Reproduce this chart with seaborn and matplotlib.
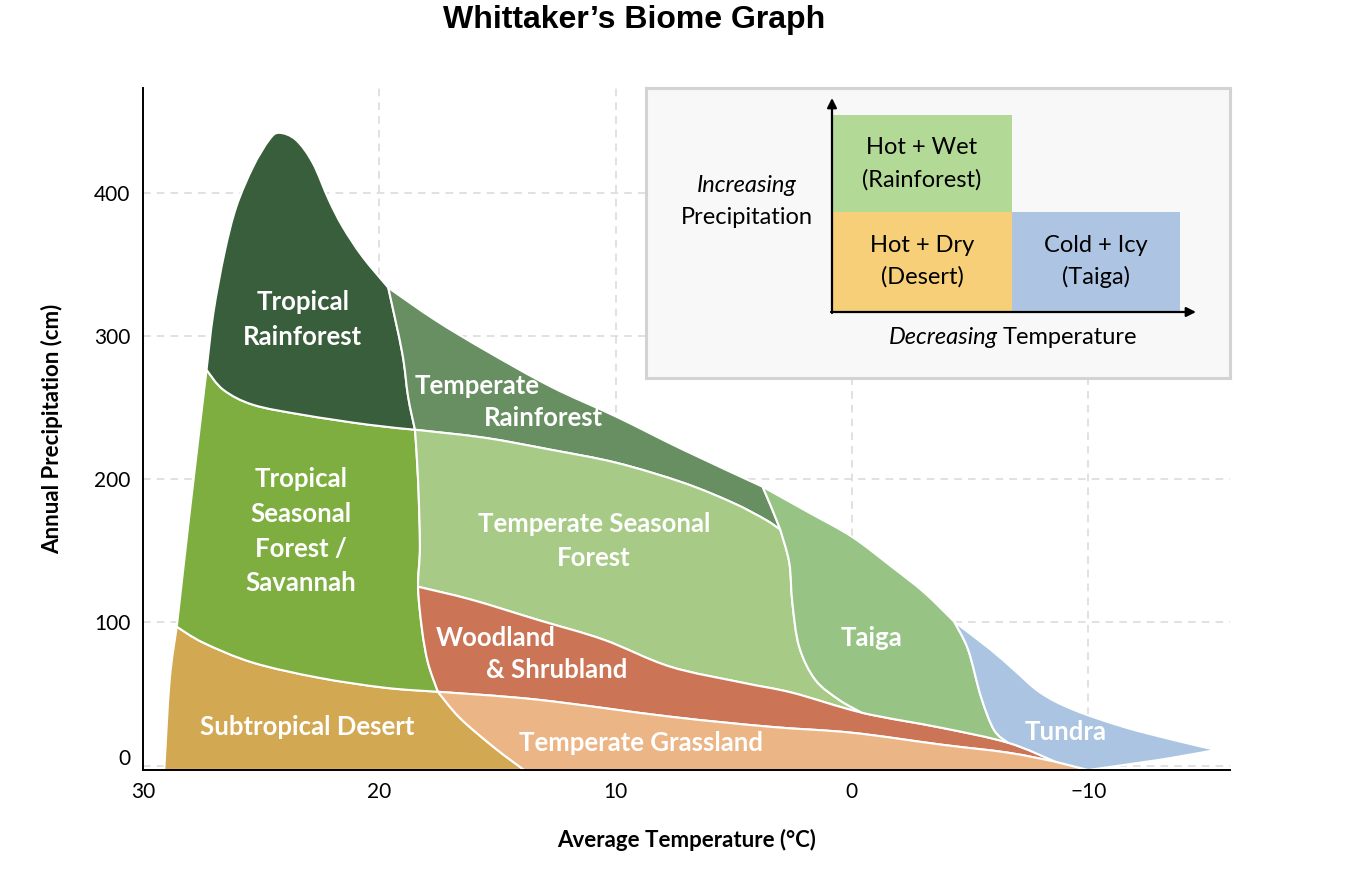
import matplotlib
matplotlib.use("Agg")
import matplotlib.pyplot as plt
import seaborn as sns
from matplotlib.patches import Rectangle, PathPatch
from matplotlib.path import Path
from matplotlib.transforms import ScaledTranslation

# ---------------- data: biome boundaries (temperature °C, precipitation cm) ----------------
BASE = -3.0
left_desert = [(29.1, BASE), (28.87, 60.0), (28.57, 97.0)]
left_tsf = [(28.57, 97.0), (28.0, 180.0), (27.31, 276.3)]
tr_outer = [(27.31, 276.3), (27.02, 316.1), (26.55, 358.0), (26.05, 390.1), (25.34, 418.0),
            (24.66, 436.8), (24.24, 441.7), (23.53, 436.8), (22.82, 420.8), (22.14, 395.0),
            (21.55, 376.1), (20.71, 355.2), (19.62, 333.6)]
temprf_outer = [(19.62, 333.6), (17.65, 311.2), (15.55, 290.3), (12.73, 264.5), (9.96, 243.5),
                (7.14, 220.5), (3.78, 194.7)]
taiga_outer = [(3.78, 194.7), (1.81, 176.6), (0.0, 159.8), (-1.68, 138.9), (-3.07, 120.7), (-4.33, 100.5)]
tundra_top = [(-4.33, 100.5), (-5.88, 80.9), (-6.85, 67.0), (-7.98, 50.9), (-9.37, 39.1),
              (-11.47, 27.2), (-13.57, 18.1), (-15.4, 11.0)]
tundra_bottom = [(-15.4, 11.0), (-13.57, 5.6), (-12.18, 2.1), (-10.0, BASE)]
tr_tsf = [(27.31, 276.3), (26.6, 262.4), (25.34, 251.9), (23.24, 244.9), (20.46, 238.0), (18.49, 234.5)]
tr_temprf = [(19.62, 333.6), (19.03, 288.2), (18.78, 257.5), (18.49, 234.5)]
tsf_right = [(18.49, 234.5), (18.36, 199.6), (18.28, 152.8), (18.36, 124.9), (18.19, 94.9),
             (17.94, 71.9), (17.52, 51.6)]
tsf_desert = [(28.57, 97.0), (27.44, 85.8), (25.34, 71.9), (22.56, 61.4), (19.75, 54.4), (17.52, 51.6)]
desert_grass = [(17.52, 51.6), (16.6, 33.5), (15.13, 12.6), (13.87, BASE)]
temprf_tsf2 = [(18.49, 234.5), (15.55, 228.9), (12.73, 220.5), (9.96, 211.4), (7.14, 197.5),
               (5.04, 183.5), (3.66, 171.7), (3.03, 164.7)]
temprf_taiga = [(3.78, 194.7), (3.40, 180.0), (3.03, 164.7)]
tsf2_taiga = [(3.03, 164.7), (2.65, 141.7), (2.52, 113.7), (2.23, 83.0), (1.55, 60.0), (0.55, 46.1), (-0.42, 37.0)]
wood_top = [(18.36, 124.9), (16.09, 115.8), (13.32, 101.9), (10.5, 87.9), (7.69, 69.1),
            (4.62, 57.9), (2.52, 50.9), (-0.42, 37.0), (-3.78, 26.5), (-6.6, 16.1), (-8.61, 2.8)]
taiga_tundra = [(-4.33, 100.5), (-4.92, 80.9), (-5.46, 48.2), (-6.01, 25.1), (-6.6, 16.1)]
wood_bottom = [(17.52, 51.6), (13.32, 46.1), (7.69, 34.2), (3.49, 27.2), (0.0, 23.0),
               (-3.78, 14.7), (-6.6, 9.1), (-8.61, 2.8)]
grass_tip = [(-8.61, 2.8), (-10.0, BASE)]

biome_names = ["Subtropical Desert", "Tropical Seasonal Forest", "Tropical Rainforest",
               "Temperate Rainforest", "Temperate Seasonal Forest", "Woodland & Shrubland",
               "Temperate Grassland", "Taiga", "Tundra"]
biome_colors = ["#D2A853", "#7EAE40", "#385E3B", "#678F62", "#A7CB87", "#CB7556",
                "#ECB586", "#97C385", "#ABC4E2"]

# label lines: (text, temperature, precipitation)
label_lines = [("Tropical", 23.24, 323.8), ("Rainforest", 23.24, 299.4),
               ("Temperate", 15.88, 265.2), ("Rainforest", 13.07, 242.8),
               ("Tropical", 23.32, 200.3), ("Seasonal", 23.32, 175.9), ("Forest /", 23.32, 151.4),
               ("Savannah", 23.32, 127.7),
               ("Temperate Seasonal", 10.92, 168.9), ("Forest", 10.92, 145.2),
               ("Woodland", 15.08, 89.3), ("& Shrubland", 12.48, 67.0),
               ("Subtropical Desert", 23.07, 27.2), ("Temperate Grassland", 8.91, 16.1),
               ("Taiga", -0.84, 89.3), ("Tundra", -9.03, 23.7)]

x_ticks = [30, 20, 10, 0, -10]
y_ticks = [0, 100, 200, 300, 400]


# ---------------- smooth boundary curves (Catmull-Rom as cubic Bezier segments) ----------------
def bez(pts):
    segs = []
    n = len(pts)
    for i in range(n - 1):
        p0 = pts[i - 1] if i > 0 else pts[i]
        p1, p2 = pts[i], pts[i + 1]
        p3 = pts[i + 2] if i + 2 < n else pts[i + 1]
        c1 = (p1[0] + (p2[0] - p0[0]) / 6, p1[1] + (p2[1] - p0[1]) / 6)
        c2 = (p2[0] - (p3[0] - p1[0]) / 6, p2[1] - (p3[1] - p1[1]) / 6)
        segs.append((p1, c1, c2, p2))
    return segs


def fwd(pts, i=0, j=None):
    return bez(pts)[i:j]


def bwd(pts, i=0, j=None):
    return [(d, c2, c1, a) for (a, c1, c2, d) in reversed(bez(pts)[i:j])]


def line(a, b):
    return [(a, a, b, b)]


polygons = [
    fwd(left_desert) + fwd(tsf_desert) + fwd(desert_grass) + line(desert_grass[-1], left_desert[0]),
    fwd(left_tsf) + fwd(tr_tsf) + fwd(tsf_right) + bwd(tsf_desert),
    fwd(tr_outer) + fwd(tr_temprf) + bwd(tr_tsf),
    fwd(temprf_outer) + fwd(temprf_taiga) + bwd(temprf_tsf2) + bwd(tr_temprf),
    fwd(temprf_tsf2) + fwd(tsf2_taiga) + bwd(wood_top, 0, 7) + bwd(tsf_right, 0, 3),
    fwd(wood_top) + bwd(wood_bottom) + bwd(tsf_right, 3, 6),
    fwd(wood_bottom) + fwd(grass_tip) + line(grass_tip[-1], desert_grass[-1]) + bwd(desert_grass),
    fwd(taiga_outer) + fwd(taiga_tundra) + bwd(wood_top, 7, 9) + bwd(tsf2_taiga) + bwd(temprf_taiga),
    fwd(tundra_top) + fwd(tundra_bottom) + bwd(grass_tip) + bwd(wood_top, 9, 10) + bwd(taiga_tundra),
]


def to_path(segs):
    verts = [segs[0][0]]
    codes = [Path.MOVETO]
    for (_, c1, c2, d) in segs:
        verts += [c1, c2, d]
        codes += [Path.CURVE4] * 3
    verts.append(segs[0][0])
    codes.append(Path.CLOSEPOLY)
    return Path(verts, codes)


# ---------------- style ----------------
sns.set_theme(style="white")
plt.rcParams["font.family"] = ["Lato", "DejaVu Sans"]
plt.rcParams["text.color"] = "black"
plt.rcParams["axes.labelcolor"] = "black"

fig = plt.figure(figsize=(13.56, 8.90), dpi=100)
ax = fig.add_axes([143 / 1356, 1 - 770 / 890, 1087 / 1356, 682 / 890])

for segs, col in zip(polygons, biome_colors):
    ax.add_patch(PathPatch(to_path(segs), facecolor=col, edgecolor="white", linewidth=1.5, zorder=2))

for txt, tx, py in label_lines:
    ax.text(tx, py, txt, color="white", fontsize=18.5, fontweight="bold",
            ha="center", va="center", zorder=5)

ax.set_xlim(29.7, -16.0)
ax.set_ylim(BASE, 473)
ax.set_xticks(x_ticks)
ax.set_yticks(y_ticks)
ax.set_xticklabels([("\u2212%d" % -v) if v < 0 else str(v) for v in x_ticks])
ax.tick_params(axis="both", length=0, labelsize=15, colors="black", pad=9)
ax.grid(True, linestyle=(0, (5, 4)), color="#D9D9D9", linewidth=1.1)
ax.set_axisbelow(True)
sns.despine(ax=ax)
for s in ["left", "bottom"]:
    ax.spines[s].set_color("black")
    ax.spines[s].set_linewidth(1.4)

t0 = ax.yaxis.get_major_ticks()[0]
t0.label1.set_transform(t0.label1.get_transform() + ScaledTranslation(0, 0.09, fig.dpi_scale_trans))

ax.set_xlabel("Average Temperature (°C)", fontsize=16, fontweight="bold", labelpad=19, color="black")
ax.set_ylabel("Annual Precipitation (cm)", fontsize=16, fontweight="bold", labelpad=22, color="black")

fig.text(634 / 1356, 1 - 20 / 890, "Whittaker\u2019s Biome Graph", fontsize=23, fontweight="bold",
         family="Liberation Sans", ha="center", va="center", color="black")

# ---------------- explanatory inset ----------------
lax = fig.add_axes([646 / 1356, 1 - 378 / 890, 584 / 1356, 290 / 890])
lax.set_xlim(0, 584)
lax.set_ylim(290, 0)
lax.set_xticks([])
lax.set_yticks([])
lax.set_facecolor("#F8F8F8")
for s in lax.spines.values():
    s.set_color("#D3D3D3")
    s.set_linewidth(2.2)
    s.set_visible(True)

lax.add_patch(Rectangle((186, 27), 180, 97, facecolor="#B3D996", edgecolor="none"))
lax.add_patch(Rectangle((186, 124), 180, 100, facecolor="#F6CF78", edgecolor="none"))
lax.add_patch(Rectangle((366, 124), 168, 100, facecolor="#ADC5E3", edgecolor="none"))
arrow = dict(arrowstyle="-|>", color="black", lw=1.6, mutation_scale=14, shrinkA=0, shrinkB=0)
lax.annotate("", xy=(186, 10), xytext=(186, 225), arrowprops=arrow)
lax.annotate("", xy=(550, 224), xytext=(185, 224), arrowprops=arrow)

lfs = 17
lax.text(276, 59, "Hot + Wet", fontsize=lfs, ha="center", va="center")
lax.text(276, 92, "(Rainforest)", fontsize=lfs, ha="center", va="center")
lax.text(276, 157, "Hot + Dry", fontsize=lfs, ha="center", va="center")
lax.text(276, 189, "(Desert)", fontsize=lfs, ha="center", va="center")
lax.text(450, 157, "Cold + Icy", fontsize=lfs, ha="center", va="center")
lax.text(450, 189, "(Taiga)", fontsize=lfs, ha="center", va="center")
lax.text(101, 98, "Increasing", fontsize=lfs, style="italic", ha="center", va="center")
lax.text(101, 130, "Precipitation", fontsize=lfs, ha="center", va="center")
lax.text(352, 249, "Decreasing", fontsize=lfs, style="italic", ha="right", va="center")
lax.text(357, 249, "Temperature", fontsize=lfs, ha="left", va="center")

fig.savefig("out.png", dpi=100)
